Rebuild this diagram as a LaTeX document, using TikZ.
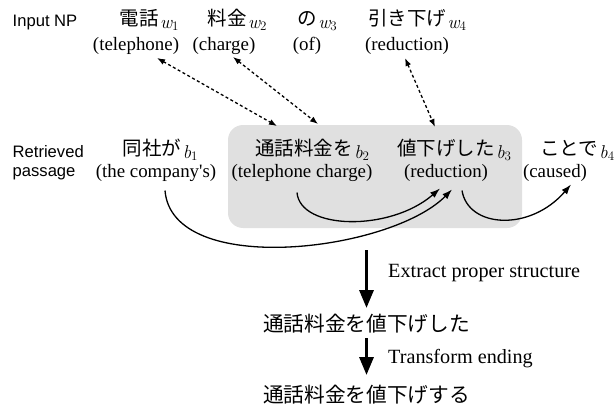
\RequirePackage{fix-cm}
\documentclass[tikz,border=0pt]{standalone}
\usepackage{fontspec}
\setmainfont{Liberation Serif}
\newfontfamily\sansf{Liberation Sans}
\newfontfamily\jpf{Noto Sans CJK JP}
\newfontfamily\lmf{Latin Modern Roman}
\usetikzlibrary{arrows.meta,calc}
\definecolor{boxgray}{RGB}{224,224,224}
\tikzset{
  en/.style={inner sep=0pt, anchor=base, font=\fontsize{18.9}{22}\selectfont},
  jp/.style={inner sep=0pt, anchor=base, font=\fontsize{19.5}{22}\selectfont\jpf},
  jpbig/.style={inner sep=0pt, anchor=base, font=\fontsize{20.7}{24}\selectfont\jpf},
  lbl/.style={inner sep=0pt, anchor=base west, font=\fontsize{16.6}{20}\selectfont\sansf},
  stepl/.style={inner sep=0pt, anchor=base west, font=\fontsize{20.2}{24}\selectfont},
  dasharrow/.style={{Latex[length=8pt,width=6pt]}-{Latex[length=8pt,width=6pt]}, line width=1.3pt, dash pattern=on 3pt off 2.5pt},
  arcarrow/.style={-{Latex[length=10pt,width=7pt]}, line width=1.3pt},
  bigarrow/.style={-{Triangle[length=18pt,width=14pt]}, line width=3.2pt}
}
\newcommand{\sbs}[2]{\rlap{\kern1.5pt\raisebox{-3pt}{\fontsize{18.5}{18.5}\selectfont\lmf\itshape #1\raisebox{-2pt}{\fontsize{13}{13}\selectfont\upshape #2}}}}
\begin{document}
\begin{tikzpicture}[x=1pt,y=-1pt]
\useasboundingbox (0,0) rectangle (615,409);
% gray group box
\node[fill=boxgray, rounded corners=15pt, minimum width=294pt, minimum height=103pt, inner sep=0pt] (grp) at (375,176.5) {};
% row labels
\node[lbl] (inp) at (12.5,27) {Input NP};
\node[lbl] (ret) at (12.5,157) {Retrieved};
\node[lbl] (pas) at (12.5,176) {passage};
% input NP
\node[jp] (j1) at (139,26) {電話\sbs{w}{1}};
\node[en] (e1) at (136,51) {(telephone)};
\node[jp] (j2) at (227,26) {料金\sbs{w}{2}};
\node[en] (e2) at (224,51) {(charge)};
\node[jp] (j3) at (307,26) {の\sbs{w}{3}};
\node[en] (e3) at (307,51) {(of)};
\node[jp] (j4) at (407,26) {引き下げ\sbs{w}{4}};
\node[en] (e4) at (407,51) {(reduction)};
% retrieved passage
\node[jp] (k1) at (152,155) {同社が\sbs{b}{1}};
\node[en] (f1) at (156,177.5) {(the company\textquotesingle s)};
\node[jp] (k2) at (304,155) {通話料金を\sbs{b}{2}};
\node[en] (f2) at (302,177.5) {(telephone charge)};
\node[jp] (k3) at (446,155) {値下げした\sbs{b}{3}};
\node[en] (f3) at (446,177.5) {(reduction)};
\node[jp] (k4) at (569,155) {ことで\sbs{b}{4}};
\node[en] (f4) at (555,177.5) {(caused)};
% results
\node[jpbig] (s1) at (366.5,331) {通話料金を値下げした};
\node[jpbig] (s2) at (366.5,402) {通話料金を値下げする};
\node[stepl] (l1) at (388,277) {Extract proper structure};
\node[stepl] (l2) at (388,363) {Transform ending};
% dashed correspondences
\draw[dasharrow] ([shift={(21pt,-7pt)}]e1.base) -- ([shift={(-27pt,29pt)}]k2.base);
\draw[dasharrow] ([shift={(9pt,-6pt)}]e2.base) -- ([shift={(14pt,31pt)}]k2.base);
\draw[dasharrow] ([shift={(-2pt,-7pt)}]e4.base) -- ([shift={(-11pt,28pt)}]k3.base);
% dependency arcs
\draw[arcarrow] ([shift={(9pt,-13pt)}]f1.base) .. controls (172,278) and (390,252) .. ([shift={(6pt,-12pt)}]f3.base);
\draw[arcarrow] ([shift={(-5pt,-15pt)}]f2.base) .. controls (300,230) and (390,232) .. ([shift={(-6pt,-11pt)}]f3.base);
\draw[arcarrow] ([shift={(16pt,-13pt)}]f3.base) .. controls (468,228) and (530,232) .. ([shift={(16pt,-7pt)}]f4.base);
% processing arrows
\draw[bigarrow] ([yshift=81pt]s1.base) -- ([yshift=23pt]s1.base);
\draw[bigarrow] ([yshift=-7pt]s1.base) -- ([yshift=27pt]s2.base);
\end{tikzpicture}
\end{document}
